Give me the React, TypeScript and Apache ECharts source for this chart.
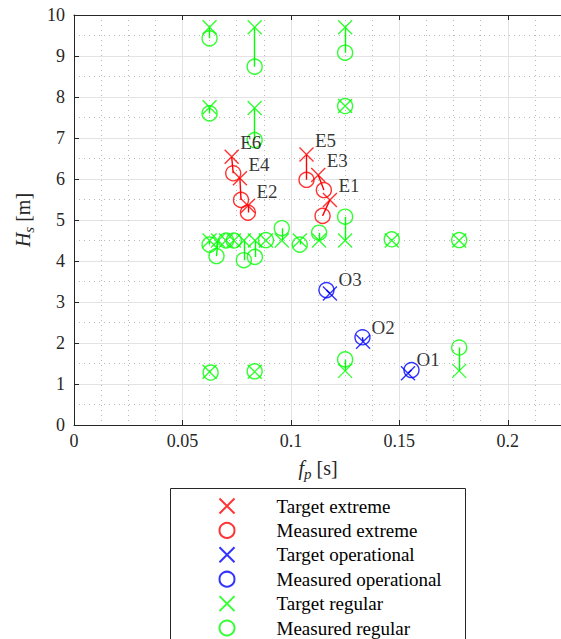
import React, { useEffect, useRef } from 'react';
import * as echarts from 'echarts';

// ---- Data (fp in [s] axis units, Hs in m) ----
const extremeNames = ['E1', 'E2', 'E3', 'E4', 'E5', 'E6'];
const extremeTargetFp = [0.118, 0.0802, 0.1126, 0.0765, 0.1072, 0.0727];
const extremeTargetHs = [5.49, 5.35, 6.1, 6.02, 6.6, 6.54];
const extremeMeasFp = [0.1146, 0.0802, 0.1152, 0.077, 0.1072, 0.0734];
const extremeMeasHs = [5.1, 5.18, 5.73, 5.49, 5.98, 6.14];

const operNames = ['O1', 'O2', 'O3'];
const operTargetFp = [0.154, 0.1333, 0.118];
const operTargetHs = [1.26, 2.03, 3.21];
const operMeasFp = [0.1556, 0.133, 0.1164];
const operMeasHs = [1.34, 2.14, 3.29];

const regTargetFp = [
  0.0625, 0.0833, 0.125, 0.0625, 0.0833, 0.125,
  0.0625, 0.0664, 0.0701, 0.0737, 0.0783, 0.0834, 0.0885, 0.0958, 0.1041, 0.113, 0.125, 0.1465, 0.1776,
  0.0625, 0.0833, 0.125, 0.1776,
];
const regTargetHs = [
  9.7, 9.7, 9.7, 7.75, 7.73, 7.78,
  4.5, 4.5, 4.5, 4.5, 4.5, 4.5, 4.5, 4.5, 4.5, 4.5, 4.5, 4.5, 4.5,
  1.3, 1.3, 1.32, 1.32,
];
const regMeasFp = [
  0.0625, 0.0833, 0.125, 0.0625, 0.0833, 0.125,
  0.0625, 0.0657, 0.0701, 0.0737, 0.0783, 0.0834, 0.0885, 0.0958, 0.1041, 0.113, 0.125, 0.1465, 0.1776,
  0.063, 0.0833, 0.125, 0.1776,
];
const regMeasHs = [
  9.43, 8.74, 9.08, 7.6, 6.95, 7.78,
  4.4, 4.12, 4.5, 4.5, 4.02, 4.1, 4.51, 4.8, 4.4, 4.69, 5.08, 4.53, 4.51,
  1.28, 1.31, 1.6, 1.89,
];

const legendNames = [
  'Target extreme',
  'Measured extreme',
  'Target operational',
  'Measured operational',
  'Target regular',
  'Measured regular',
];

const xTickMax = 0.225;
const yTickMax = 10;

const FONT = 'Liberation Serif';
const RED = '#ff0000';
const BLUE = '#0000ff';
const GREEN = '#00ff00';
const X_SYMBOL = 'path://M0,0L10,10M10,0L0,10';

const pts = (xs: number[], ys: number[]) => xs.map((x, i) => [x, ys[i]]);
const pairs = (tx: number[], ty: number[], mx: number[], my: number[]) =>
  tx.map((x, i) => ({ coords: [[x, ty[i]], [mx[i], my[i]]] }));

export default function App() {
  const ref = useRef<HTMLDivElement>(null);
  useEffect(() => {
    if (!ref.current) return;
    const chart = echarts.init(ref.current, null, { renderer: 'svg' });

    const crossSeries = (name: string, color: string, data: any[], withLabel: boolean) => ({
      name,
      type: 'scatter',
      symbol: X_SYMBOL,
      symbolSize: 14,
      itemStyle: { color: 'none', borderColor: color, borderWidth: 1.4 },
      data,
      z: 3,
      label: withLabel
        ? {
            show: true,
            formatter: '{b}',
            position: 'right',
            distance: 0,
            offset: [-1, -14],
            fontFamily: FONT,
            fontSize: 19,
            color: '#000',
          }
        : { show: false },
    });
    const circleSeries = (name: string, color: string, data: any[]) => ({
      name,
      type: 'scatter',
      symbol: 'circle',
      symbolSize: 15,
      itemStyle: { color: 'rgba(0,0,0,0)', borderColor: color, borderWidth: 1.4 },
      data,
      z: 3,
    });
    const linkSeries = (color: string, data: any[]) => ({
      type: 'lines',
      coordinateSystem: 'cartesian2d',
      silent: true,
      lineStyle: { color, width: 1.4, opacity: 1 },
      data,
      z: 2,
    });

    const axisNameStyle = {
      fontFamily: FONT,
      fontSize: 20,
      color: '#262626',
      rich: {
        i: { fontFamily: FONT, fontSize: 20, fontStyle: 'italic', color: '#262626' },
        s: {
          fontFamily: FONT,
          fontSize: 15,
          fontStyle: 'italic',
          color: '#262626',
          verticalAlign: 'bottom',
          padding: [11, 0, 0, 0],
        },
        n: { fontFamily: FONT, fontSize: 20, color: '#262626' },
      },
    };

    chart.setOption({
      animation: false,
      backgroundColor: '#ffffff',
      grid: {
        left: 74,
        top: 15,
        width: 488,
        height: 410,
        containLabel: false,
        outerBoundsMode: 'none',
      },
      xAxis: [
        {
          type: 'value',
          min: 0,
          max: xTickMax,
          interval: 0.05,
          name: '{i|f}{s|p}{n| [s]}',
          nameLocation: 'middle',
          nameGap: 30,
          nameTextStyle: axisNameStyle,
          axisLine: { show: true, onZero: false, lineStyle: { color: '#262626', width: 1 } },
          axisTick: { show: true, inside: true, length: 5, lineStyle: { color: '#262626' } },
          axisLabel: {
            fontFamily: FONT,
            fontSize: 18,
            color: '#262626',
            margin: 7,
            showMaxLabel: false,
          },
          splitLine: { show: true, lineStyle: { color: '#e3e3e3', width: 1 } },
          minorTick: { show: false, splitNumber: 4 },
          minorSplitLine: { show: true, lineStyle: { color: '#b8b8b8', width: 1, type: [1, 4] } },
        },
        {
          type: 'value',
          position: 'top',
          min: 0,
          max: xTickMax,
          interval: 0.05,
          axisLine: { show: true, onZero: false, lineStyle: { color: '#262626', width: 1 } },
          axisTick: { show: true, inside: true, length: 5, lineStyle: { color: '#262626' } },
          axisLabel: { show: false },
          splitLine: { show: false },
        },
      ],
      yAxis: {
        type: 'value',
        min: 0,
        max: yTickMax,
        interval: 1,
        name: '{i|H}{s|s}{n| [m]}',
        nameLocation: 'middle',
        nameGap: 37,
        nameTextStyle: axisNameStyle,
        axisLine: { show: true, onZero: false, lineStyle: { color: '#262626', width: 1 } },
        axisTick: { show: true, inside: true, length: 5, lineStyle: { color: '#262626' } },
        axisLabel: { fontFamily: FONT, fontSize: 18, color: '#262626', margin: 9 },
        splitLine: { show: true, lineStyle: { color: '#e3e3e3', width: 1 } },
        minorTick: { show: false, splitNumber: 2 },
        minorSplitLine: { show: true, lineStyle: { color: '#b8b8b8', width: 1, type: [1, 4] } },
      },
      legend: {
        orient: 'vertical',
        left: 212,
        top: 491,
        width: 300,
        height: 300,
        itemWidth: 15,
        itemHeight: 15,
        itemGap: 4.4,
        selectedMode: false,
        textStyle: {
          fontFamily: FONT,
          fontSize: 19,
          color: '#000',
          lineHeight: 20,
          padding: [0, 0, 0, 37],
        },
        data: legendNames,
      },
      graphic: [
        {
          type: 'rect',
          silent: true,
          z: 0,
          shape: { x: 170.5, y: 488.5, width: 295, height: 200 },
          style: { fill: 'none', stroke: '#262626', lineWidth: 1 },
        },
      ],
      series: [
        linkSeries(GREEN, pairs(regTargetFp, regTargetHs, regMeasFp, regMeasHs)),
        linkSeries(RED, pairs(extremeTargetFp, extremeTargetHs, extremeMeasFp, extremeMeasHs)),
        linkSeries(BLUE, pairs(operTargetFp, operTargetHs, operMeasFp, operMeasHs)),
        crossSeries(
          legendNames[0],
          RED,
          extremeTargetFp.map((x, i) => ({ name: extremeNames[i], value: [x, extremeTargetHs[i]] })),
          true,
        ),
        circleSeries(legendNames[1], RED, pts(extremeMeasFp, extremeMeasHs)),
        crossSeries(
          legendNames[2],
          BLUE,
          operTargetFp.map((x, i) => ({ name: operNames[i], value: [x, operTargetHs[i]] })),
          true,
        ),
        circleSeries(legendNames[3], BLUE, pts(operMeasFp, operMeasHs)),
        crossSeries(legendNames[4], GREEN, pts(regTargetFp, regTargetHs), false),
        circleSeries(legendNames[5], GREEN, pts(regMeasFp, regMeasHs)),
      ],
    });
    return () => chart.dispose();
  }, []);

  return (
    <div
      ref={ref}
      style={{ position: 'absolute', left: 0, top: 0, width: 561, height: 639, overflow: 'hidden' }}
    />
  );
}
